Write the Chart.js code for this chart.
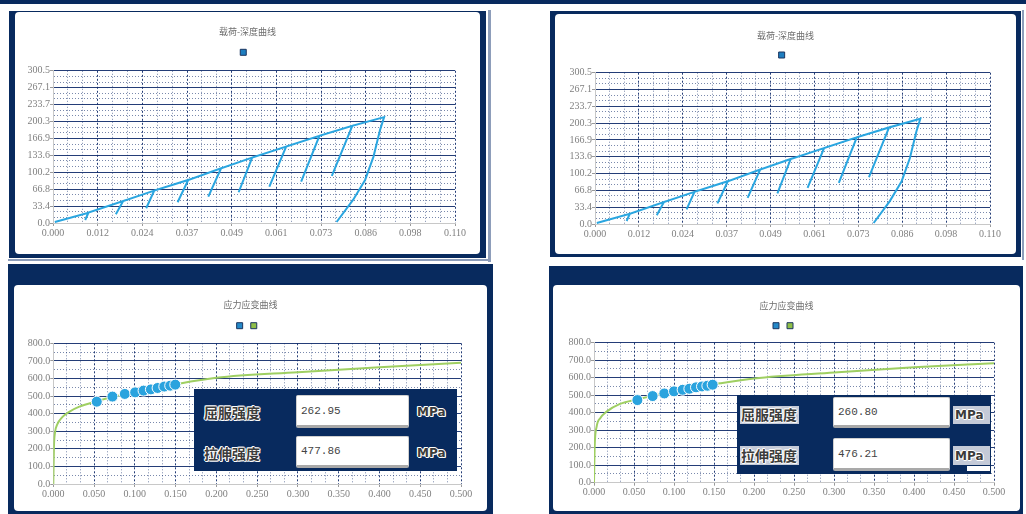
<!DOCTYPE html>
<html>
<head>
<meta charset="utf-8">
<script src="https://cdn.jsdelivr.net/npm/chart.js@4.4.1/dist/chart.umd.min.js"></script>
<style>
  html, body { margin: 0; padding: 0; background: #fff; }
  body { width: 1026px; height: 514px; position: relative; overflow: hidden; }
  .navy { position: absolute; background: #082a5e; }
  .shade { position: absolute; background: #8d9dba; }
  .card { position: absolute; background: #fff; border-radius: 4px; overflow: hidden; }
  .wrap { position: absolute; left: 0; top: 0; width: 100%; height: 100%; }
  .box { position: absolute; background: #082a5e; z-index: 5; }
  .lbl, .unit { position: absolute; z-index: 6; font-family: 'Noto Sans CJK SC'; font-weight: bold; color: #3c3c3c; line-height: 16px; white-space: nowrap;
    text-shadow: -1px 0 #fff, 1px 0 #fff, 0 -1px #fff, 0 1px #fff, -1px -1px #eee, 1px 1px #eee; }
  .lbl { font-size: 14px; }
  .unit { font-size: 12px; font-family: 'DejaVu Sans'; }
  .inp { position: absolute; z-index: 6; background: #fff; box-sizing: border-box; border: 1px solid #cfcfcf; border-bottom: 3px solid #a9a9a9; border-radius: 2px;
    font-family: 'Liberation Mono'; font-size: 11px; color: #444; padding-left: 4px; display: flex; align-items: center; }
  .speck { position: absolute; z-index: 5; background: #c4cad8; }
</style>
</head>
<body>
<div class="navy" style="left:0;top:0;width:1026px;height:4px"></div>

<!-- top left -->
<div class="shade" style="left:488px;top:10px;width:3px;height:252px"></div>
<div class="shade" style="left:8px;top:259px;width:483px;height:2px"></div>
<div class="navy" style="left:9px;top:11px;width:477px;height:247px"></div>
<div class="card" style="left:15px;top:12px;width:465px;height:242px"><div class="wrap"><canvas id="c1"></canvas></div></div>

<!-- top right -->
<div class="shade" style="left:1022px;top:10px;width:2px;height:250px"></div>
<div class="navy" style="left:550px;top:11px;width:471px;height:246px"></div>
<div class="card" style="left:555px;top:14px;width:461px;height:240px"><div class="wrap"><canvas id="c2"></canvas></div></div>

<!-- bottom left -->
<div class="navy" style="left:8px;top:264px;width:485px;height:250px"></div>
<div class="card" style="left:14px;top:285px;width:473px;height:226px"><div class="wrap"><canvas id="c3"></canvas></div></div>

<!-- bottom right -->
<div class="navy" style="left:549px;top:266px;width:474px;height:248px"></div>
<div class="card" style="left:553px;top:285px;width:467px;height:226px"><div class="wrap"><canvas id="c4"></canvas></div></div>

<!-- result boxes -->
<div class="box" style="left:194px;top:389px;width:263px;height:82px"></div>
<div class="lbl" style="left:204px;top:404px">屈服强度</div>
<div class="inp" style="left:296px;top:395px;width:113px;height:33px">262.95</div>
<div class="unit" style="left:417px;top:404px">MPa</div>
<div class="lbl" style="left:204px;top:445px">拉伸强度</div>
<div class="inp" style="left:296px;top:436px;width:113px;height:32px">477.86</div>
<div class="unit" style="left:417px;top:445px">MPa</div>

<div class="box" style="left:737px;top:395px;width:254px;height:79px"></div>
<div class="speck" style="left:740px;top:406px;width:59px;height:18px"></div>
<div class="lbl" style="left:741px;top:406px">屈服强度</div>
<div class="inp" style="left:833px;top:397px;width:117px;height:31px">260.80</div>
<div class="speck" style="left:953px;top:406px;width:37px;height:18px"></div>
<div class="unit" style="left:955px;top:407px">MPa</div>
<div class="speck" style="left:740px;top:446px;width:59px;height:19px"></div>
<div class="lbl" style="left:741px;top:447px">拉伸强度</div>
<div class="inp" style="left:833px;top:438px;width:117px;height:33px">476.21</div>
<div class="speck" style="left:953px;top:446px;width:37px;height:19px"></div>
<div class="unit" style="left:955px;top:448px">MPa</div>
<div class="speck" style="left:967px;top:466px;width:23px;height:5px;background:#fff"></div>

<script>
// load - depth curve (path order, with partial unloading loops)
const depth = [0.0005,
  0.0097, 0.0088, 0.0097,
  0.0192, 0.0172, 0.0192,
  0.0277, 0.0255, 0.0277,
  0.0370, 0.0341, 0.0370,
  0.0460, 0.0425, 0.0460,
  0.0545, 0.0508, 0.0545,
  0.0638, 0.0592, 0.0638,
  0.0729, 0.0679, 0.0729,
  0.0819, 0.0763, 0.0819,
  0.0906, 0.0895, 0.0877, 0.0854, 0.0821, 0.0776];
const load = [2,
  20.4, 5.9, 20.4,
  43.5, 17.2, 43.5,
  63.9, 29.1, 63.9,
  85.0, 40.9, 85.0,
  108.1, 52.0, 108.1,
  129.1, 60.7, 129.1,
  150.9, 71.8, 150.9,
  172.0, 81.7, 172.0,
  191.8, 92.9, 191.8,
  209.0, 183.9, 131.1, 85.0, 45.5, 2];
const depthTickLabels = ['0.000', '0.012', '0.024', '0.037', '0.049', '0.061', '0.073', '0.086', '0.098', '0.110'];
const loadTickLabels = ['0.0', '33.4', '66.8', '100.2', '133.6', '166.9', '200.3', '233.7', '267.1', '300.5'];
const depthMax = 0.110, loadMax = 300.5;

// stress - strain, left panel
const strainDotsA = [0.0533, 0.0725, 0.0877, 0.1004, 0.1107, 0.1197, 0.1279, 0.1361, 0.1434, 0.1496];
const stressDotsA = [468, 497, 512, 521, 531, 538, 546, 554, 559, 565];
const strainCurveA = [0, 0.0008, 0.002, 0.005, 0.011, 0.02, 0.032, 0.053, 0.075, 0.1, 0.15, 0.2, 0.3, 0.4, 0.5];
const stressCurveA = [0, 212, 290, 340, 380, 412, 440, 470, 497, 521, 567, 604, 636, 664, 690];
// stress - strain, right panel
const strainDotsB = [0.0542, 0.0733, 0.0879, 0.1000, 0.1108, 0.1192, 0.1275, 0.1350, 0.1417, 0.1483];
const stressDotsB = [472, 495, 510, 522, 531, 537, 545, 550, 554, 560];
const strainCurveB = [0, 0.0008, 0.0033, 0.008, 0.0158, 0.0325, 0.054, 0.1, 0.1575, 0.2, 0.3, 0.4, 0.5];
const stressCurveB = [0, 200, 320, 370, 406, 450, 476, 522, 568, 596, 630, 660, 682];
const strainTickLabels = ['0.000', '0.050', '0.100', '0.150', '0.200', '0.250', '0.300', '0.350', '0.400', '0.450', '0.500'];
const stressTickLabels = ['0.0', '100.0', '200.0', '300.0', '400.0', '500.0', '600.0', '700.0', '800.0'];
const strainMax = 0.5, stressMax = 800;

const MAJOR = 'rgba(12,40,104,0.9)';
const MINOR = 'rgba(12,40,104,0.55)';

const pts = (xs, ys) => xs.map((x, i) => ({x: x, y: ys[i]}));

function subTicks(max, labelCount, every) {
  const n = (labelCount - 1) * every;
  const out = [];
  for (let i = 0; i <= n; i++) out.push(max * i / n);
  return out;
}

function axis(max, labels, every, horizontal, size, solidMajor) {
  const vals = subTicks(max, labels.length, every);
  return {
    type: 'linear', min: 0, max: max,
    afterBuildTicks: s => { s.ticks = vals.map(v => ({value: v})); },
    afterFit: s => { if (horizontal) s.height = size; else s.width = size; },
    ticks: {
      autoSkip: false, maxRotation: 0, minRotation: 0, padding: horizontal ? 1 : 0,
      color: '#808080', font: {family: 'Liberation Serif', size: 10},
      callback: (v, i) => i % every === 0 ? labels[i / every] : ''
    },
    grid: {
      color: c => c.index % every === 0 ? MAJOR : MINOR,
      lineWidth: 1, tickLength: 3,
      tickColor: c => c.index % every === 0 ? '#9a9a9a' : 'rgba(0,0,0,0)'
    },
    border: {
      color: '#c8c8c8',
      dash: c => {
        if (c.type !== 'tick') return [];
        if (c.index % every === 0) return solidMajor ? [] : [2, 2];
        return [1, 2];
      }
    }
  };
}

// empty axis on the right, only to keep the gap after the plot
function spacer(w) {
  return {position: 'right', display: true, grid: {display: false, drawTicks: false}, ticks: {display: false}, border: {display: false}, afterFit: s => { s.width = w; }};
}

function legendOf(fills, size, pad) {
  return {
    display: true,
    labels: {
      boxWidth: 6, boxHeight: 6, padding: pad, font: {size: size},
      generateLabels: () => fills.map((f, i) => ({text: '', fillStyle: f, strokeStyle: '#1b3560', lineWidth: 1, datasetIndex: i, hidden: false}))
    }
  };
}

function titleOf(text, top, bottom) {
  return {display: true, text: text, color: '#6e6e6e', font: {family: 'Noto Sans CJK SC', size: 9, weight: 'normal'}, padding: {top: top, bottom: bottom}};
}

function loadChart(id, L) {
  return new Chart(document.getElementById(id), {
    type: 'line',
    data: {datasets: [{label: '', data: pts(depth, load), borderColor: '#2aa6e0', borderWidth: 2, pointRadius: 0, tension: 0, fill: false}]},
    options: {
      responsive: true, maintainAspectRatio: false, animation: false,
      layout: {padding: {left: 0, right: 0, top: 0, bottom: L.pb}},
      plugins: {title: titleOf('载荷-深度曲线', L.tt, L.tb), legend: legendOf(['#1e7ec0'], L.lf, L.lp), tooltip: {enabled: false}},
      scales: {
        x: axis(depthMax, depthTickLabels, 3, true, 20, false),
        y: axis(loadMax, loadTickLabels, 3, false, L.yw, true),
        gap: spacer(L.rw)
      }
    }
  });
}

function stressChart(id, dx, dy, cx, cy, L) {
  return new Chart(document.getElementById(id), {
    type: 'scatter',
    data: {datasets: [
      {label: '', data: pts(dx, dy), backgroundColor: '#2aa3de', borderColor: '#ffffff', borderWidth: 1, pointRadius: 5.5, showLine: false},
      {label: '', data: pts(cx, cy), borderColor: '#9fcf62', borderWidth: 2, pointRadius: 0, showLine: true, cubicInterpolationMode: 'monotone', fill: false}
    ]},
    options: {
      responsive: true, maintainAspectRatio: false, animation: false,
      layout: {padding: {left: 0, right: 0, top: 0, bottom: L.pb}},
      plugins: {title: titleOf('应力应变曲线', L.tt, L.tb), legend: legendOf(['#2589c8', '#8fbf48'], L.lf, L.lp), tooltip: {enabled: false}},
      scales: {
        x: axis(strainMax, strainTickLabels, 3, true, 20, false),
        y: axis(stressMax, stressTickLabels, 2, false, L.yw, true),
        gap: spacer(L.rw)
      }
    }
  });
}

loadChart('c1', {pb: 11, yw: 38, rw: 25, tt: 14.6, tb: 4.4, lf: 17, lp: 2});
loadChart('c2', {pb: 10, yw: 40, rw: 26, tt: 16.6, tb: 3.9, lf: 15.4, lp: 2});
stressChart('c3', strainDotsA, stressDotsA, strainCurveA, stressCurveA, {pb: 7, yw: 39.3, rw: 26, tt: 14.6, tb: 7.2, lf: 15.2, lp: 0.5});
stressChart('c4', strainDotsB, stressDotsB, strainCurveB, stressCurveB, {pb: 8.3, yw: 41, rw: 26, tt: 15.3, tb: 6.6, lf: 14, lp: 1});
</script>
</body>
</html>
